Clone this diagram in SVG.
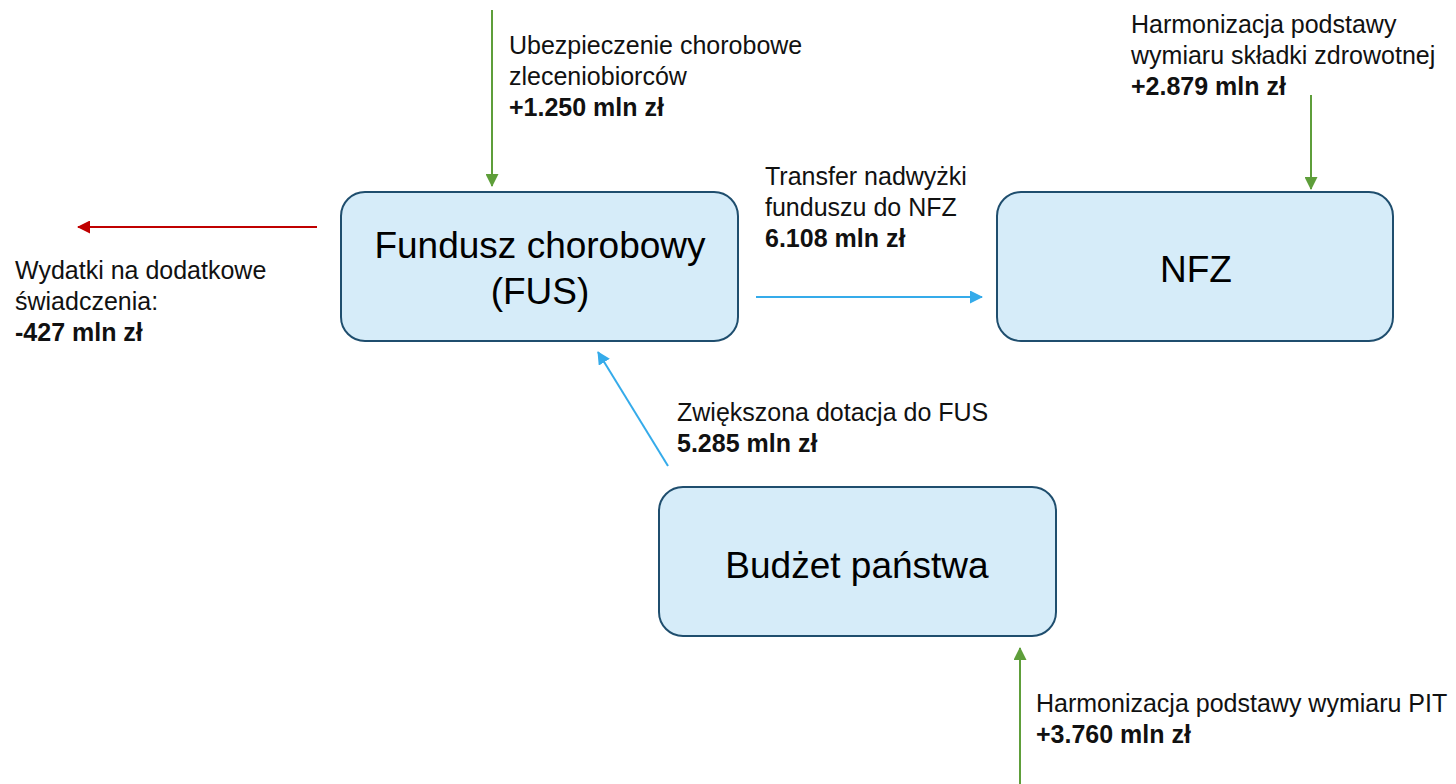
<svg xmlns="http://www.w3.org/2000/svg" width="1456" height="784" viewBox="0 0 1456 784">
<style>
.box{fill:#D6ECF9;stroke:#1F4E6E;stroke-width:2}
.nt{font-family:"Liberation Sans",Arial,sans-serif;font-size:37px;fill:#000;text-anchor:middle}
.lb{font-family:"Liberation Sans",Arial,sans-serif;font-size:25px;fill:#111}
.b{font-weight:bold}
.g{stroke:#5E9E3A;stroke-width:2;fill:none}
.r{stroke:#C00000;stroke-width:2;fill:none}
.u{stroke:#35ABEA;stroke-width:2;fill:none}
</style>
<defs>
<marker id="ar" markerWidth="13" markerHeight="13" refX="12" refY="6.5" orient="auto" markerUnits="userSpaceOnUse" viewBox="0 0 13 13"><path d="M0,0 L13,6.5 L0,13 z" fill="#C00000"/></marker>
<marker id="au" markerWidth="13" markerHeight="13" refX="12" refY="6.5" orient="auto" markerUnits="userSpaceOnUse" viewBox="0 0 13 13"><path d="M0,0 L13,6.5 L0,13 z" fill="#35ABEA"/></marker>
<marker id="ag2" markerWidth="13" markerHeight="13" refX="12" refY="6.5" orient="auto" markerUnits="userSpaceOnUse" viewBox="0 0 13 13"><path d="M0,0 L13,6.5 L0,13 z" fill="#5E9E3A"/></marker>
</defs>
<rect width="1456" height="784" fill="#fff"/>
<g id="connectors">
<line class="g" x1="492" y1="10" x2="492" y2="186" marker-end="url(#ag2)"/>
<line class="r" x1="317" y1="227" x2="78" y2="227" marker-end="url(#ar)"/>
<line class="u" x1="756" y1="297" x2="982" y2="297" marker-end="url(#au)"/>
<line class="g" x1="1311" y1="95" x2="1311" y2="189" marker-end="url(#ag2)"/>
<line class="u" x1="668" y1="466" x2="598" y2="352" marker-end="url(#au)"/>
<line class="g" x1="1020" y1="784" x2="1020" y2="648" marker-end="url(#ag2)"/>
</g>
<g id="fus">
<rect class="box" x="341" y="192" width="397" height="149" rx="24"/>
<text class="nt" x="540" y="258">Fundusz chorobowy</text>
<text class="nt" x="540" y="304">(FUS)</text>
</g>
<g id="nfz">
<rect class="box" x="997" y="192" width="396" height="149" rx="24"/>
<text class="nt" x="1196" y="282">NFZ</text>
</g>
<g id="budzet">
<rect class="box" x="659" y="487" width="397" height="149" rx="24"/>
<text class="nt" x="857" y="578">Budżet państwa</text>
</g>
<g id="labels">
<text class="lb" x="509" y="54">Ubezpieczenie chorobowe</text>
<text class="lb" x="509" y="85">zleceniobiorców</text>
<text class="lb b" x="509" y="116">+1.250 mln zł</text>
<text class="lb" x="15" y="279">Wydatki na dodatkowe</text>
<text class="lb" x="15" y="310">świadczenia:</text>
<text class="lb b" x="15" y="341">-427 mln zł</text>
<text class="lb" x="765" y="185">Transfer nadwyżki</text>
<text class="lb" x="765" y="216">funduszu do NFZ</text>
<text class="lb b" x="765" y="247">6.108 mln zł</text>
<text class="lb" x="1131" y="33">Harmonizacja podstawy</text>
<text class="lb" x="1131" y="64">wymiaru składki zdrowotnej</text>
<text class="lb b" x="1131" y="95">+2.879 mln zł</text>
<text class="lb" x="677" y="421">Zwiększona dotacja do FUS</text>
<text class="lb b" x="677" y="452">5.285 mln zł</text>
<text class="lb" x="1036" y="712">Harmonizacja podstawy wymiaru PIT</text>
<text class="lb b" x="1036" y="743">+3.760 mln zł</text>
</g>
</svg>
